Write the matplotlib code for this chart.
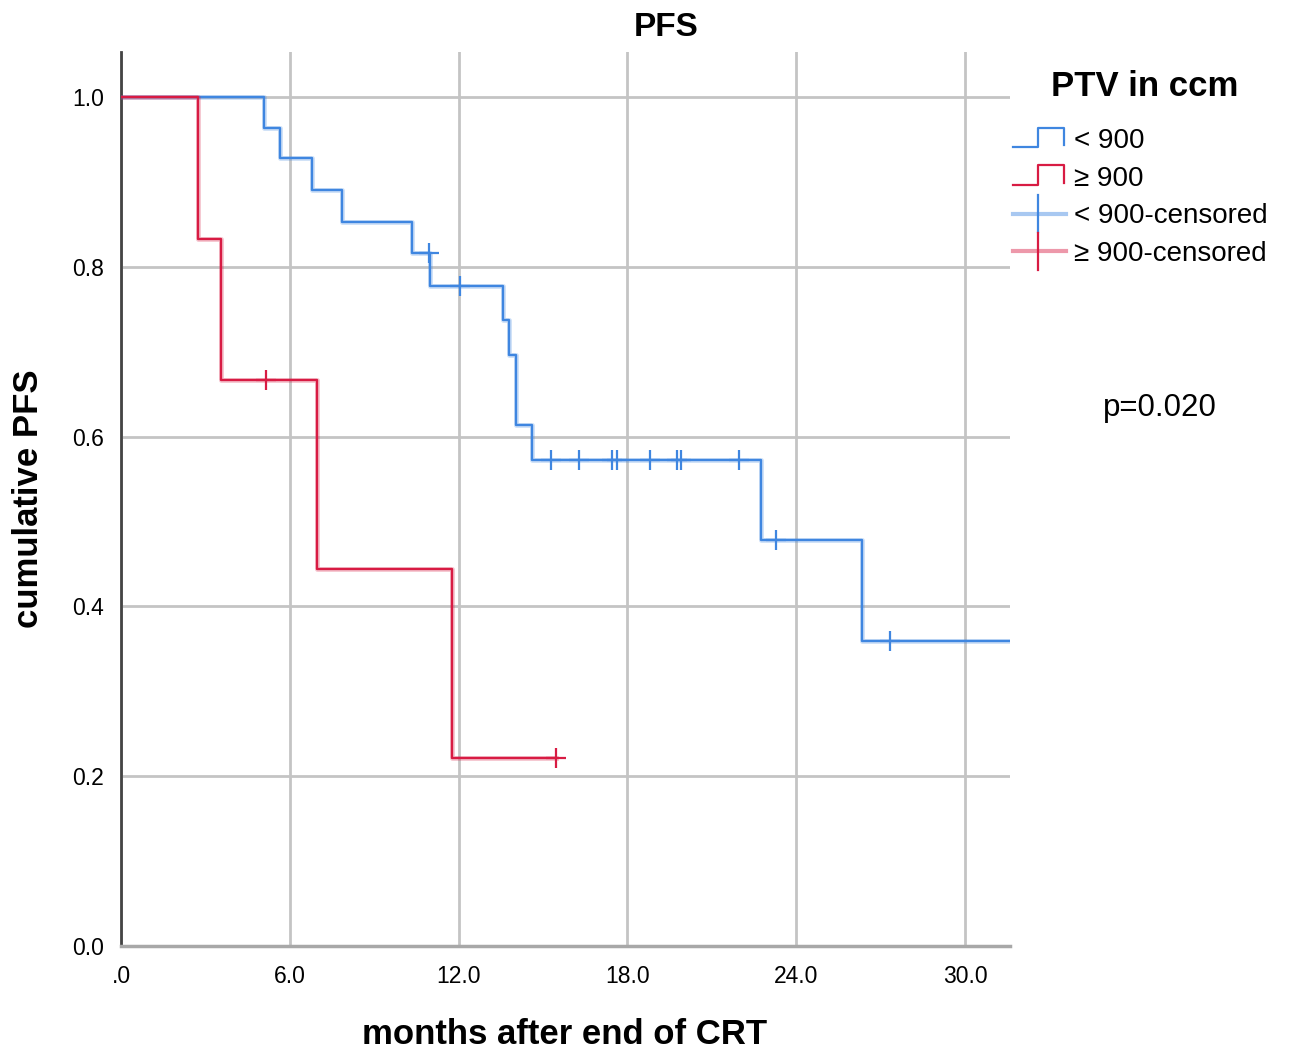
import matplotlib
matplotlib.use('Agg')
import matplotlib.pyplot as plt
import numpy as np
from matplotlib.legend_handler import HandlerBase
from matplotlib.lines import Line2D

plt.rcParams['font.family'] = ['Liberation Sans', 'DejaVu Sans']

# ---------------- data ----------------
blue_times = [0.0, 5.08, 5.65, 6.80, 7.87, 10.33, 10.98, 13.59, 13.79, 14.03, 14.62, 22.74, 26.35]
blue_surv = [1.0, 0.964, 0.928, 0.890, 0.853, 0.816, 0.777, 0.737, 0.696, 0.614, 0.573, 0.478, 0.359]
blue_last = 32.0
blue_censor = [10.95, 12.05, 15.27, 16.29, 17.47, 17.64, 18.81, 19.75, 19.90, 21.95, 23.28, 27.34]

red_times = [0.0, 2.72, 3.55, 6.96, 11.75]
red_surv = [1.0, 0.833, 0.667, 0.444, 0.222]
red_last = 15.46
red_censor = [5.15, 15.46]

x_ticks = [0, 6, 12, 18, 24, 30]
x_ticklabels = ['.0', '6.0', '12.0', '18.0', '24.0', '30.0']
y_ticks = [0.0, 0.2, 0.4, 0.6, 0.8, 1.0]
y_ticklabels = ['0.0', '0.2', '0.4', '0.6', '0.8', '1.0']

group_labels = ['< 900', '\u2265 900', '< 900-censored', '\u2265 900-censored']
BLUE = '#3f86e0'
RED = '#d81b43'

W, H = 1289, 1054
fig = plt.figure(figsize=(W / 100, H / 100), dpi=100)
ax = fig.add_axes([121 / W, 1 - 946 / H, (1010 - 121) / W, (946 - 52) / H])


def step_value(times, surv, t):
    idx = np.searchsorted(np.asarray(times), t, side='right') - 1
    return np.asarray(surv)[idx]


for times, surv, last, cens, col in [
    (blue_times, blue_surv, blue_last, blue_censor, BLUE),
    (red_times, red_surv, red_last, red_censor, RED),
]:
    xs = list(times) + [last]
    ys = list(surv) + [surv[-1]]
    ax.step(xs, ys, where='post', color=col, lw=3.5, alpha=0.25, zorder=3)
    ax.step(xs, ys, where='post', color=col, lw=1.7, zorder=3)
    cy = [step_value(times, surv, t) for t in cens]
    ax.plot(cens, cy, ls='none', marker='+', ms=15, mew=1.6, color=col, zorder=4)

ax.set_xlim(0, 31.6)
ax.set_ylim(0, 1.053)
ax.set_xticks(x_ticks)
ax.set_xticklabels(x_ticklabels)
ax.set_yticks(y_ticks)
ax.set_yticklabels(y_ticklabels)
ax.tick_params(length=0, labelsize=16.5)
ax.tick_params(axis='x', pad=14)
ax.tick_params(axis='y', pad=12)
ax.grid(True, color='#c4c4c4', lw=2)
ax.set_axisbelow(True)
for s in ['top', 'right']:
    ax.spines[s].set_visible(False)
ax.spines['left'].set_color('#444444')
ax.spines['left'].set_linewidth(2)
ax.spines['bottom'].set_color('#a8a8a8')
ax.spines['bottom'].set_linewidth(2.5)

fig.text(666 / W, 1 - 28 / H, 'PFS', ha='center', va='center', fontsize=24, weight='bold')
fig.text(565 / W, 1 - 1035 / H, 'months after end of CRT', ha='center', va='center',
         fontsize=25, weight='bold')
fig.text(28 / W, 1 - 499 / H, 'cumulative PFS', ha='center', va='center', rotation=90,
         fontsize=25, weight='bold')
fig.text(1160 / W, 1 - 408 / H, 'p=0.020', ha='center', va='center', fontsize=22.5)
fig.text(1145 / W, 1 - 86 / H, 'PTV in ccm', ha='center', va='center', fontsize=25,
         weight='bold')


class StepHandler(HandlerBase):
    def create_artists(self, legend, orig_handle, xdescent, ydescent, width, height,
                       fontsize, trans):
        x0 = -xdescent
        y0 = -ydescent
        col = orig_handle.get_color()
        xs = [x0, x0 + 0.47 * width, x0 + 0.47 * width, x0 + 0.97 * width, x0 + 0.97 * width]
        ys = [y0 + 0.05 * height, y0 + 0.05 * height, y0 + 1.05 * height, y0 + 1.05 * height,
              y0 + 0.15 * height]
        ln = Line2D(xs, ys, color=col, lw=1.6, transform=trans)
        return [ln]


class CensorHandler(HandlerBase):
    def create_artists(self, legend, orig_handle, xdescent, ydescent, width, height,
                       fontsize, trans):
        x0 = -xdescent
        y0 = -ydescent
        col = orig_handle.get_color()
        yc = y0 + 0.5 * height
        hl = Line2D([x0, x0 + width], [yc, yc], color=col, lw=3, alpha=0.45, transform=trans)
        vl = Line2D([x0 + 0.47 * width] * 2, [yc - 0.95 * height, yc + 0.95 * height],
                    color=col, lw=1.6, transform=trans)
        return [hl, vl]


h1 = Line2D([], [], color=BLUE)
h2 = Line2D([], [], color=RED)
h3 = Line2D([], [], color=BLUE)
h4 = Line2D([], [], color=RED)
leg = fig.legend([h1, h2, h3, h4], group_labels, loc='upper left',
                 bbox_to_anchor=(1013 / W, 1 - 128 / H), frameon=False,
                 fontsize=20, handlelength=1.9, handletextpad=0.3, labelspacing=0.42,
                 borderaxespad=0, borderpad=0,
                 handler_map={h1: StepHandler(), h2: StepHandler(),
                              h3: CensorHandler(), h4: CensorHandler()})

fig.savefig('out.png', dpi=100)
